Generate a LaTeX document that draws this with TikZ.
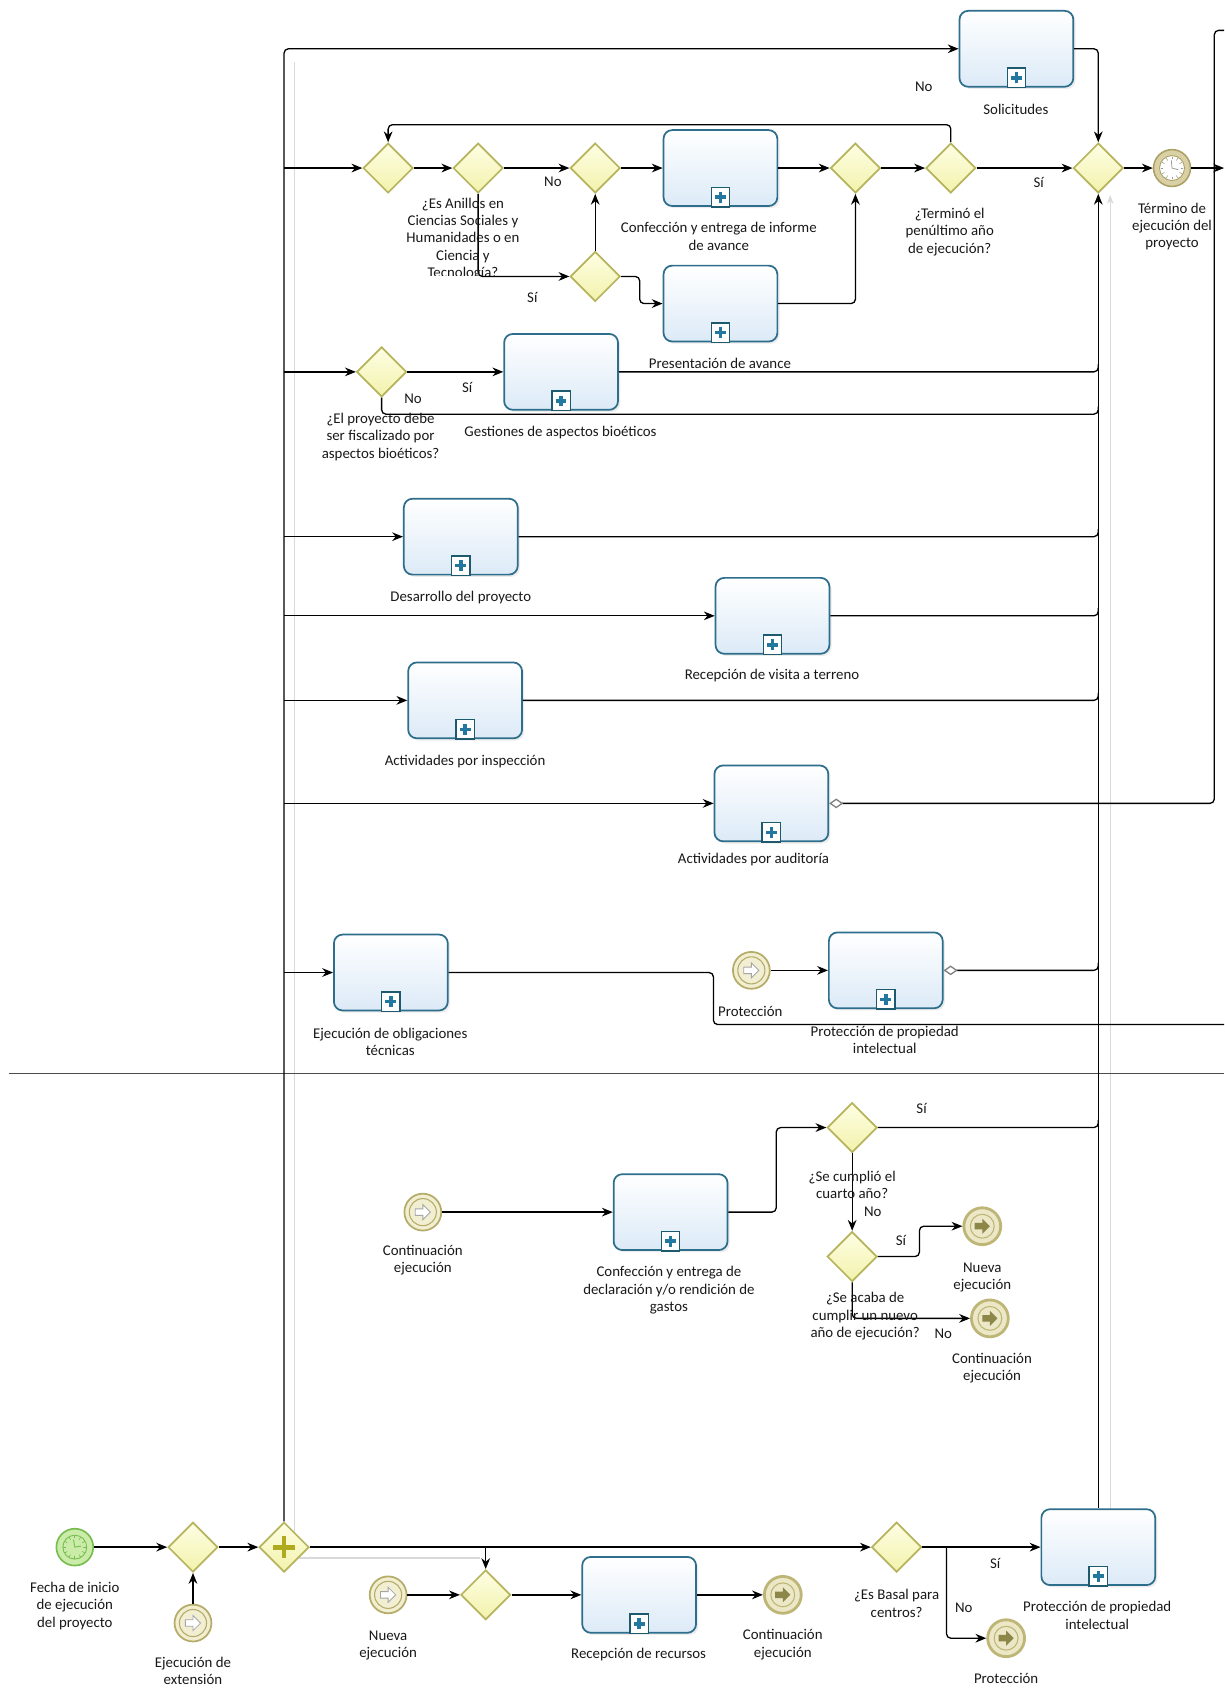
\documentclass[tikz,border=0pt]{standalone}
\usepackage{fontspec}
\setmainfont{Carlito}
\usetikzlibrary{arrows.meta,shapes.geometric,shadows,calc}
\definecolor{taskbd}{RGB}{45,110,140}
\definecolor{taskfill}{RGB}{220,234,247}
\definecolor{markbd}{RGB}{30,90,110}
\definecolor{markplus}{RGB}{35,120,160}
\definecolor{gwbd}{RGB}{182,180,92}
\definecolor{gwtop}{RGB}{254,254,228}
\definecolor{gwbot}{RGB}{242,242,172}
\definecolor{gwplus}{RGB}{175,170,30}
\definecolor{evbd}{RGB}{182,172,105}
\definecolor{evfill}{RGB}{242,238,210}
\definecolor{endbd}{RGB}{190,182,118}
\definecolor{endfill}{RGB}{236,231,198}
\definecolor{endarrow}{RGB}{140,135,72}
\definecolor{stbd}{RGB}{118,188,78}
\definecolor{stfill}{RGB}{202,236,168}
\definecolor{tmbd}{RGB}{170,160,100}
\definecolor{tmfill}{RGB}{218,208,165}
\tikzset{
  task/.style={rectangle, draw=taskbd, line width=1.6pt, rounded corners=8pt,
    minimum width=105pt, minimum height=70pt, inner sep=0pt,
    top color=white, bottom color=taskfill,
    drop shadow={shadow xshift=2pt, shadow yshift=-2pt, opacity=0.15, fill=gray}},
  gw/.style={diamond, aspect=1, draw=gwbd, line width=1.6pt, minimum width=46pt,
    minimum height=46pt, inner sep=0pt, top color=gwtop, bottom color=gwbot},
  flow/.style={draw=black, line width=1.2pt, rounded corners=4pt,
    -{Stealth[length=10pt,width=8pt]}},
  plainline/.style={draw=black, line width=1.2pt, rounded corners=4pt},
  condline/.style={draw=black, line width=1.2pt, rounded corners=4pt,
    {Diamond[open,length=13pt,width=9pt,color=gray]}-},
  lbl/.style={font=\fontsize{13.7}{16}\selectfont, align=center, inner sep=0pt, text=black!90},
  ghost/.style={draw=gray!30, line width=1pt},
  evnode/.style={circle, minimum size=34pt, inner sep=0pt},
}
\newcommand\spm[1]{%
  \draw[draw=markbd, line width=1.3pt, fill=white, sharp corners]
    ([xshift=-8.5pt]#1.south) rectangle ([xshift=8.5pt,yshift=18pt]#1.south);
  \draw[draw=markplus, line width=3.2pt, sharp corners]
    ([yshift=4pt]#1.south) -- ([yshift=14pt]#1.south)
    ([xshift=-5pt,yshift=9pt]#1.south) -- ([xshift=5pt,yshift=9pt]#1.south);}
\newcommand\linkev[2]{%
  \node[evnode, draw=evbd, line width=1.6pt, fill=evfill] (#1) at (#2) {};
  \draw[draw=evbd, line width=1pt] (#1.center) circle[radius=12.5pt];
  \draw[draw=gray!70, fill=white, line width=0.8pt] ([shift={(-7pt,-3pt)}]#1.center)
    -- ++(7pt,0pt) -- ++(0pt,-4pt) -- ++(7pt,7pt) -- ++(-7pt,7pt) -- ++(0pt,-4pt) -- ++(-7pt,0pt) -- cycle;}
\newcommand\throwev[2]{%
  \node[evnode, draw=endbd, line width=2.6pt, fill=endfill] (#1) at (#2) {};
  \draw[draw=endbd, line width=1pt] (#1.center) circle[radius=11pt];
  \fill[endarrow] ([shift={(-7pt,-3pt)}]#1.center)
    -- ++(7pt,0pt) -- ++(0pt,-4pt) -- ++(7pt,7pt) -- ++(-7pt,7pt) -- ++(0pt,-4pt) -- ++(-7pt,0pt) -- cycle;}
\begin{document}
\begin{tikzpicture}[x=1pt,y=-1pt]
\fill[white] (0,0) rectangle (1129,1568);
\useasboundingbox (0,0) rectangle (1129,1568);

% faint ghost lines
\draw[ghost] (272,1437) -- (272,57);
\draw[ghost] (272,1437) -- (443,1437);
\draw[ghost,-{Stealth[length=8pt,width=6pt]}] (1024,1392) -- (1024,180);

% lane separator
\draw[draw=black!70, line width=1pt] (8,990) -- (1129,990);

% ---------- upper lane nodes ----------
\node[task] (Sol) at (937.5,45) {}; \spm{Sol}
\node[gw] (G1) at (358,155) {};
\node[gw] (G2) at (441,155) {};
\node[gw] (G3) at (549,155) {};
\node[gw] (G3b) at (549,255) {};
\node[task] (Inf) at (664.5,155) {}; \spm{Inf}
\node[task] (Pres) at (664.5,280) {}; \spm{Pres}
\node[gw] (G4) at (789,155) {};
\node[gw] (G5) at (877,155) {};
\node[gw] (GM) at (1013,155) {};
\node[evnode, draw=tmbd, line width=1.4pt, fill=tmfill] (Term) at (1081,155) {};
\draw[draw=tmbd, line width=0.8pt, fill=white] (Term.center) circle[radius=11.5pt];
\foreach \a in {0,30,...,330}
  \draw[draw=gray!80, line width=0.5pt] ([shift={(\a:8pt)}]Term.center) -- ([shift={(\a:10.5pt)}]Term.center);
\draw[draw=gray!80, line width=0.7pt] ([shift={(95:7pt)}]Term.center) -- (Term.center) -- ([shift={(-15:6pt)}]Term.center);

\node[gw] (G6) at (352,343) {};
\node[task] (Gest) at (517.5,343) {}; \spm{Gest}
\node[task] (Des) at (425,495) {}; \spm{Des}
\node[task] (Rec) at (712.5,568) {}; \spm{Rec}
\node[task] (Insp) at (429,646) {}; \spm{Insp}
\node[task] (Aud) at (711.5,741) {}; \spm{Aud}
\node[task] (Obl) at (360.5,897) {}; \spm{Obl}
\linkev{Plk}{693,895}
\node[task] (PPIa) at (817,895) {}; \spm{PPIa}

% ---------- lower lane nodes ----------
\linkev{Clk}{390,1118}
\node[task] (Decl) at (618.5,1118) {}; \spm{Decl}
\node[gw] (G7) at (786,1040) {};
\node[gw] (G8) at (786,1159) {};
\throwev{NE}{906,1131}
\throwev{CE}{913,1216}

\node[evnode, draw=stbd, line width=1.5pt, fill=stfill] (Start) at (69,1427) {};
\draw[draw=stbd, line width=0.8pt] (Start.center) circle[radius=11pt];
\foreach \a in {0,30,...,330}
  \draw[draw=stbd, line width=0.6pt] ([shift={(\a:8pt)}]Start.center) -- ([shift={(\a:10.5pt)}]Start.center);
\draw[draw=stbd, line width=0.8pt] ([shift={(100:7pt)}]Start.center) -- (Start.center) -- ([shift={(10:6pt)}]Start.center);
\node[gw] (G9) at (178,1427) {};
\linkev{Ext}{178,1497}
\node[gw] (GP) at (262,1427) {};
\draw[draw=gwplus, line width=4.5pt] ([xshift=-10pt]GP.center) -- ([xshift=10pt]GP.center)
  ([yshift=-10pt]GP.center) -- ([yshift=10pt]GP.center);
\linkev{Nlk}{358,1471}
\node[gw] (G11) at (448,1471) {};
\node[task] (Recur) at (589.5,1471) {}; \spm{Recur}
\throwev{CEb}{722,1471}
\node[gw] (G10) at (827,1427) {};
\node[task] (PPIb) at (1013,1427) {}; \spm{PPIb}
\throwev{Prot}{928,1511}

% ---------- junction coordinates ----------
\coordinate (j2) at (262,155);
\coordinate (j3) at (262,343);
\coordinate (j4) at (262,495);
\coordinate (j5) at (262,568);
\coordinate (j6) at (262,646);
\coordinate (j7) at (262,741);
\coordinate (j8) at (262,897);
\coordinate (jb) at (448,1427);
\coordinate (jc) at (873,1427);
\coordinate (eR) at (1129,155);
\coordinate (eA) at (1129,28);
\coordinate (eO) at (1129,945);

% ---------- connectors upper lane ----------
\draw[flow] (GP.north) -- (262,45) -- (Sol.west);
\draw[flow] (Sol.east) -| (GM.north);
\draw[flow] (j2) -- (G1.west);
\draw[flow] (G1.east) -- (G2.west);
\draw[flow] (G2.east) -- (G3.west);
\draw[flow] (G3.east) -- (Inf.west);
\draw[flow] (Inf.east) -- (G4.west);
\draw[flow] (G4.east) -- (G5.west);
\draw[flow] (G5.east) -- (GM.west);
\draw[flow] (GM.east) -- (Term.west);
\draw[flow] (Term.east) -- (eR);
\draw[flow] (G5.north) -- (877,115) -| (G1.north);
\draw[flow] (G2.south) |- (G3b.west);
\draw[flow] (G3b.north) -- (G3.south);
\draw[flow] (G3b.east) -- (590,255) -- (590,280) -- (Pres.west);
\draw[flow] (Pres.east) -| (G4.south);

\draw[flow] (j3) -- (G6.west);
\draw[flow] (G6.east) -- (Gest.west);
\draw[plainline] (Gest.east) -- (1013,343) -- (1013,336);
\draw[plainline] (G6.south) |- (1013,382) -- (1013,375);
\draw[flow] (j4) -- (Des.west);
\draw[plainline] (Des.east) -- (1013,495) -- (1013,488);
\draw[flow] (j5) -- (Rec.west);
\draw[plainline] (Rec.east) -- (1013,568) -- (1013,561);
\draw[flow] (j6) -- (Insp.west);
\draw[plainline] (Insp.east) -- (1013,646) -- (1013,639);
\draw[flow] (j7) -- (Aud.west);
\draw[condline] (Aud.east) -- (1120,741) -- (1120,28) -- (eA);
\draw[flow] (j8) -- (Obl.west);
\draw[plainline] (Obl.east) -- (658,897) -- (658,945) -- (eO);
\draw[flow] (Plk.east) -- (PPIa.west);
\draw[condline] (PPIa.east) -- (1013,895) -- (1013,888);
\draw[flow] (PPIb.north) -- (GM.south);

% ---------- connectors lower lane ----------
\draw[flow] (Clk.east) -- (Decl.west);
\draw[flow] (Decl.east) -- (716,1118) -- (716,1040) -- (G7.west);
\draw[plainline] (G7.east) -- (1013,1040) -- (1013,1033);
\draw[flow] (G7.south) -- (G8.north);
\draw[flow] (G8.east) -- (848,1159) -- (848,1131) -- (NE.west);
\draw[flow] (G8.south) |- (CE.west);

\draw[flow] (Start.east) -- (G9.west);
\draw[flow] (Ext.north) -- (G9.south);
\draw[flow] (G9.east) -- (GP.west);
\draw[flow] (GP.east) -- (G10.west);
\draw[flow] (jb) -- (G11.north);
\draw[flow] (Nlk.east) -- (G11.west);
\draw[flow] (G11.east) -- (Recur.west);
\draw[flow] (Recur.east) -- (CEb.west);
\draw[flow] (G10.east) -- (PPIb.west);
\draw[flow] (jc) |- (Prot.west);

% ---------- labels ----------
\node[lbl] (lSol) at (937,101) {Solicitudes};
\node[lbl] (lNo1) at (852,80) {No};
\begin{scope}
\clip (320,170) rectangle (540,254);
\node[lbl] (lG2) at (427,220.5) {¿Es Anillos en\\Ciencias Sociales y\\Humanidades o en\\Ciencia y\\Tecnología?};
\end{scope}
\node[lbl] (lNo2) at (510,168) {No};
\node[lbl] (lSi2) at (491,274) {Sí};
\node[lbl] (lInf) at (663,218) {Confección y entrega de informe\\de avance};
\node[lbl] (lPres) at (664,335) {Presentación de avance};
\node[lbl] (lG5) at (876,214) {¿Terminó el\\penúltimo año\\de ejecución?};
\node[lbl] (lSiM) at (958,168) {Sí};
\node[lbl] (lTerm) at (1081,209) {Término de\\ejecución del\\proyecto};
\node[lbl] (lG6) at (351,403) {¿El proyecto debe\\ser fiscalizado por\\aspectos bioéticos?};
\node[lbl] (lSi6) at (431,357) {Sí};
\node[lbl] (lNo6) at (381,368) {No};
\node[lbl] (lGest) at (517,399) {Gestiones de aspectos bioéticos};
\node[lbl] (lDes) at (425,551) {Desarrollo del proyecto};
\node[lbl] (lRec) at (712,623) {Recepción de visita a terreno};
\node[lbl] (lInsp) at (429,702) {Actividades por inspección};
\node[lbl] (lAud) at (695,793) {Actividades por auditoría};
\node[lbl] (lObl) at (360,961) {Ejecución de obligaciones\\técnicas};
\node[lbl] (lPlk) at (692,933) {Protección};
\node[lbl] (lPPIa) at (816,959) {Protección de propiedad\\intelectual};

\node[lbl] (lClk) at (390,1162) {Continuación\\ejecución};
\node[lbl] (lDecl) at (617,1190) {Confección y entrega de\\declaración y/o rendición de\\gastos};
\node[lbl] (lG7) at (786,1093) {¿Se cumplió el\\cuarto año?};
\node[lbl] (lSi7) at (850,1022) {Sí};
\node[lbl] (lNo7) at (805,1118) {No};
\node[lbl] (lG8) at (798,1214) {¿Se acaba de\\cumplir un nuevo\\año de ejecución?};
\node[lbl] (lSi8) at (831,1144) {Sí};
\node[lbl] (lNo8) at (870,1230) {No};
\node[lbl] (lNE) at (906,1178) {Nueva\\ejecución};
\node[lbl] (lCE) at (915,1262) {Continuación\\ejecución};

\node[lbl] (lStart) at (69,1481) {Fecha de inicio\\de ejecución\\del proyecto};
\node[lbl] (lExt) at (178,1541) {Ejecución de\\extensión};
\node[lbl] (lNlk) at (358,1518) {Nueva\\ejecución};
\node[lbl] (lRecur) at (589,1526) {Recepción de recursos};
\node[lbl] (lCEb) at (722,1517) {Continuación\\ejecución};
\node[lbl] (lG10) at (827,1479) {¿Es Basal para\\centros?};
\node[lbl] (lSi10) at (918,1442) {Sí};
\node[lbl] (lNo10) at (889,1483) {No};
\node[lbl] (lPPIb) at (1012,1490) {Protección de propiedad\\intelectual};
\node[lbl] (lProt) at (928,1548) {Protección};
\end{tikzpicture}
\end{document}
